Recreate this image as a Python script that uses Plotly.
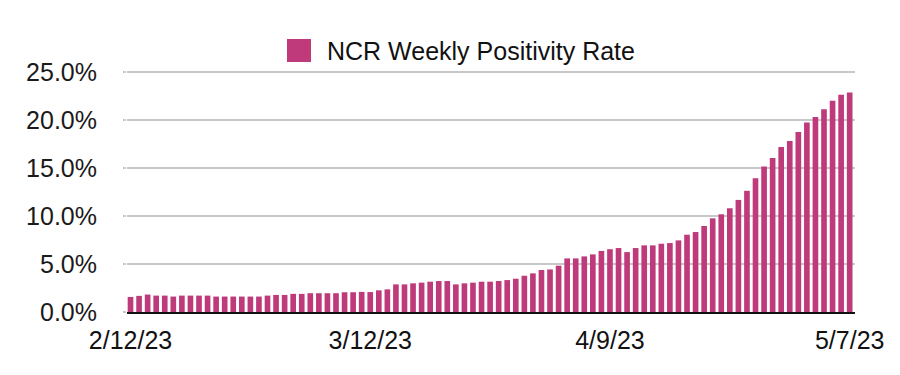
import pandas as pd
import plotly.graph_objects as go

# Daily dates 2/12/23 .. 5/7/23
dates = pd.date_range("2023-02-12", "2023-05-07", freq="D")
categories = [f"{d.month}/{d.day}/{d.strftime('%y')}" for d in dates]

positivity = [
    1.57, 1.68, 1.82, 1.71, 1.71, 1.61, 1.71, 1.71, 1.71, 1.71,
    1.61, 1.61, 1.61, 1.61, 1.61, 1.61, 1.71, 1.78, 1.78, 1.89,
    1.89, 1.96, 1.96, 1.96, 1.96, 2.06, 2.06, 2.10, 2.08, 2.26,
    2.36, 2.88, 2.88, 2.99, 3.06, 3.16, 3.23, 3.23, 2.88, 2.99,
    3.06, 3.16, 3.16, 3.23, 3.33, 3.47, 3.78, 4.03, 4.38, 4.44,
    4.83, 5.59, 5.59, 5.80, 6.01, 6.37, 6.55, 6.67, 6.25, 6.67,
    6.95, 6.95, 7.12, 7.19, 7.47, 8.06, 8.34, 8.97, 9.77, 10.19,
    10.82, 11.69, 12.64, 13.96, 15.18, 16.06, 17.21, 17.84, 18.78, 19.76,
    20.35, 21.15, 22.02, 22.65, 22.90,
]

x_tick_labels = ["2/12/23", "3/12/23", "4/9/23", "5/7/23"]
y_ticks = [0, 5, 10, 15, 20, 25]
y_tick_text = ["0.0%", "5.0%", "10.0%", "15.0%", "20.0%", "25.0%"]
series_name = "NCR Weekly Positivity Rate"
bar_color = "#BE3A7B"

fig = go.Figure()
fig.add_trace(go.Bar(
    x=categories, y=positivity, name=series_name,
    marker=dict(color=bar_color, line=dict(width=0)),
    showlegend=False,
))

# page is offset by the 8px default body margin; keep figure inside viewport
OFF = 8
PL, PR, PT, PB = 127, 855, 70, 312   # plot area in page pixels
W, H = 900 - 2 * OFF, 375 - 2 * OFF
pw, ph = PR - PL, PB - PT

def px_x(p):
    return (p - PL) / pw

def px_y(p):
    return (PB - p) / ph

fig.update_layout(
    width=W, height=H,
    margin=dict(l=PL - OFF, r=W - (PR - OFF), t=PT - OFF, b=H - (PB - OFF), pad=0,
                autoexpand=False),
    paper_bgcolor="white", plot_bgcolor="white",
    bargap=0.34,
    font=dict(family="Liberation Sans, Arial, sans-serif", color="#1a1a1a"),
    xaxis=dict(
        type="category", automargin=False,
        range=[-0.41, 84.62],
        tickmode="array", tickvals=x_tick_labels, ticktext=x_tick_labels,
        tickfont=dict(size=25, color="#111"),
        showgrid=False, showline=True, linecolor="#111", linewidth=2,
        ticks="", ticklabelstandoff=5,
    ),
    yaxis=dict(
        automargin=False,
        range=[0, 25.24],
        tickmode="array", tickvals=y_ticks, ticktext=y_tick_text,
        tickfont=dict(size=25, color="#1a1a1a"),
        showgrid=True, gridcolor="#c8c8c8", gridwidth=1.5,
        zeroline=False, showline=False,
        ticks="outside", ticklen=3, tickcolor="#c8c8c8", tickwidth=1.5,
        ticklabelstandoff=21,
    ),
    shapes=[dict(
        type="rect", xref="paper", yref="paper",
        x0=px_x(287), x1=px_x(311), y0=px_y(62), y1=px_y(39),
        fillcolor=bar_color, line=dict(width=0),
    )],
    annotations=[dict(
        text=series_name, xref="paper", yref="paper",
        x=px_x(325), y=px_y(50.5), xanchor="left", yanchor="middle",
        showarrow=False, font=dict(size=25, color="#111"),
    )],
)

fig.write_html("out.html")
